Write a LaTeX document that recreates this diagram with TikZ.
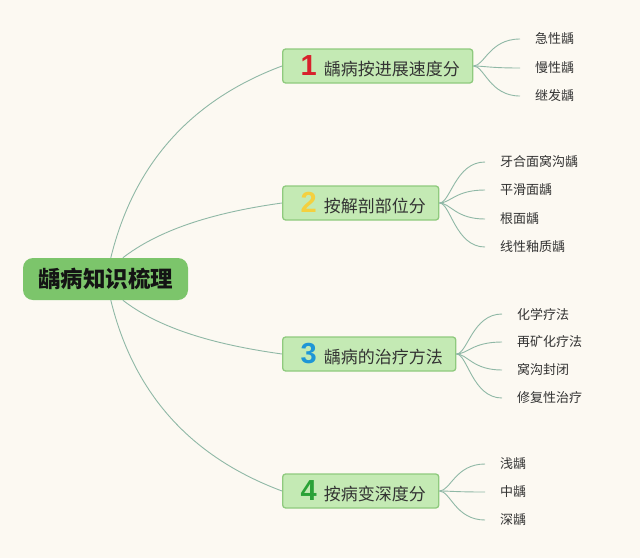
\documentclass[tikz,border=0pt]{standalone}
\usepackage{fontspec}
\setmainfont{Noto Sans CJK SC}
\newfontfamily\numfont{Liberation Sans}
\usetikzlibrary{calc}
\definecolor{bg}{HTML}{FCF9F2}
\definecolor{rootfill}{HTML}{7CC56B}
\definecolor{brfill}{HTML}{C4EAB4}
\definecolor{brdraw}{HTML}{8FCA7E}
\definecolor{conncol}{HTML}{8FB8A6}
\definecolor{txt}{HTML}{333333}
\definecolor{nA}{HTML}{D8212C}
\definecolor{nB}{HTML}{F4D03F}
\definecolor{nC}{HTML}{1E96D6}
\definecolor{nD}{HTML}{2AA237}
\newcommand\bnum[2]{\hspace*{18pt}{\fontsize{29}{29}\numfont\bfseries\color{#1}#2}\hspace*{7pt}}
\begin{document}
\begin{tikzpicture}[x=1pt,y=-1pt,
 rootbox/.style={rectangle, rounded corners=10pt, fill=rootfill, minimum width=165pt, minimum height=42pt, inner sep=0pt, font=\fontsize{22.5}{24}\selectfont\bfseries, text=black!92},
 branchbox/.style={rectangle, rounded corners=3pt, fill=brfill, draw=brdraw, line width=1.3pt, minimum height=34pt, inner sep=0pt, anchor=west, font=\fontsize{17}{20}\selectfont, text=txt},
 leaf/.style={anchor=west, inner xsep=15pt, inner ysep=0pt, font=\fontsize{13}{15}\selectfont, text=txt},
 conn/.style={draw=conncol, line width=0.9pt},
]
\useasboundingbox (0,0) rectangle (640,558);
\fill[bg] (0,0) rectangle (640,558);

\node[rootbox] (root) at (105.5,279) {龋病知识梳理};

\node[branchbox] (b1) at (282,66) {\bnum{nA}{1}龋病按进展速度分\hspace*{13pt}};
\node[branchbox] (b2) at (282,203) {\bnum{nB}{2}按解剖部位分\hspace*{13pt}};
\node[branchbox] (b3) at (282,354) {\bnum{nC}{3}龋病的治疗方法\hspace*{13pt}};
\node[branchbox] (b4) at (282,491) {\bnum{nD}{4}按病变深度分\hspace*{13pt}};

\node[leaf] (l11) at (520,39) {急性龋};
\node[leaf] (l12) at (520,68) {慢性龋};
\node[leaf] (l13) at (520,96) {继发龋};

\node[leaf] (l21) at (485,162) {牙合面窝沟龋};
\node[leaf] (l22) at (485,190) {平滑面龋};
\node[leaf] (l23) at (485,219) {根面龋};
\node[leaf] (l24) at (485,247) {线性釉质龋};

\node[leaf] (l31) at (502,314) {化学疗法};
\node[leaf] (l32) at (502,342) {再矿化疗法};
\node[leaf] (l33) at (502,370) {窝沟封闭};
\node[leaf] (l34) at (502,398) {修复性治疗};

\node[leaf] (l41) at (485,464) {浅龋};
\node[leaf] (l42) at (485,492) {中龋};
\node[leaf] (l43) at (485,520) {深龋};

\draw[conn] ($(root.north west)+(88,0)$) .. controls +(23,-94) and +(-91,34) .. (b1.west);
\draw[conn] ($(root.north west)+(100,0)$) .. controls +(35,-27) and +(-72,10) .. (b2.west);
\draw[conn] ($(root.south west)+(100,0)$) .. controls +(35,27) and +(-72,-10) .. (b3.west);
\draw[conn] ($(root.south west)+(88,0)$) .. controls +(23,94) and +(-91,-34) .. (b4.west);

\foreach \b/\l in {b1/l11,b1/l12,b1/l13,b2/l21,b2/l22,b2/l23,b2/l24,b3/l31,b3/l32,b3/l33,b3/l34,b4/l41,b4/l42,b4/l43}
  \draw[conn] (\b.east) .. controls +(11,0) and ($(\b.east |- \l.west)+(16,0)$) .. (\l.west);
\end{tikzpicture}
\end{document}
